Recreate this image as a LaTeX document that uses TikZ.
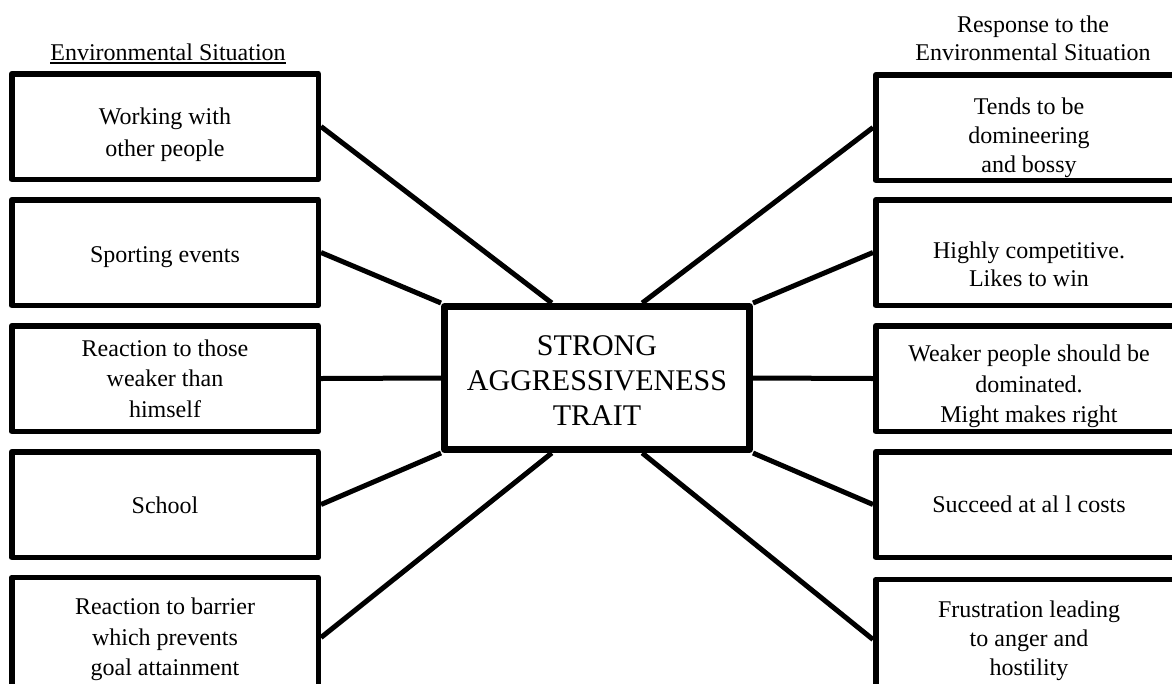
\documentclass[tikz,border=0pt]{standalone}
\usepackage{fontspec}
\setmainfont{Liberation Serif}
\usetikzlibrary{calc}
\begin{document}
\begin{tikzpicture}[x=1pt,y=-1pt,
  sbox/.style={draw,fill=white,line width=5.5pt,minimum width=306.5pt,minimum height=105.5pt,inner sep=0pt,line join=round},
  tall/.style={minimum height=120pt},
  txt/.style={align=center,inner sep=0pt,font=\fontsize{24}{30.5}\selectfont},
  cbox/.style={draw,fill=white,line width=7pt,minimum width=305pt,minimum height=143pt,inner sep=0pt,line join=round},
  ctxt/.style={align=center,inner sep=0pt,font=\fontsize{30}{35}\selectfont},
  link/.style={line width=5pt},
  head/.style={align=center,inner sep=0pt,font=\fontsize{24}{28}\selectfont}]
\useasboundingbox (0,0) rectangle (1172,683);
\clip (0,0) rectangle (1172,683);
% headers
\node[head,anchor=base] (HL) at (168,60) {Environmental Situation};
\draw[line width=1.5pt] ($(HL.base west)+(0,3)$) -- ($(HL.base east)+(0,3)$);
\node[head] (HR) at (1033,38) {Response to the\\Environmental Situation};
% centre
\node[cbox] (C) at (597,378) {};
\node[ctxt] (Ct) at ($(C)+(0,3)$) {STRONG\\AGGRESSIVENESS\\TRAIT};
% left boxes
\node[sbox] (L1) at (165,126.5) {};
\node[sbox] (L2) at (165,252.5) {};
\node[sbox] (L3) at (165,378.5) {};
\node[sbox] (L4) at (165,504.5) {};
\node[sbox,tall] (L5) at (165,637.5) {};
\node[txt,font=\fontsize{24}{32}\selectfont] (L1t) at ($(L1)+(0,8)$) {Working with\\other people};
\node[txt] (L2t) at ($(L2)+(0,5)$) {Sporting events};
\node[txt] (L3t) at ($(L3)+(0,0)$) {Reaction to those\\weaker than\\himself};
\node[txt] (L4t) at ($(L4)+(0,1)$) {School};
\node[txt] (L5t) at ($(L5)+(0,2)$) {Reaction to barrier\\which prevents\\goal attainment};
% right boxes
\node[sbox] (R1) at (1029,127.5) {};
\node[sbox] (R2) at (1029,252.5) {};
\node[sbox] (R3) at (1029,378.5) {};
\node[sbox] (R4) at (1029,504.5) {};
\node[sbox,tall] (R5) at (1029,639.5) {};
\node[txt,font=\fontsize{24}{29}\selectfont] (R1t) at ($(R1)+(0,10)$) {Tends to be\\domineering\\and bossy};
\node[txt,font=\fontsize{24}{28}\selectfont] (R2t) at ($(R2)+(0,12)$) {Highly competitive.\\Likes to win};
\node[txt] (R3t) at ($(R3)+(0,8)$) {Weaker people should be\\dominated.\\Might makes right};
\node[txt] (R4t) at ($(R4)+(0,0)$) {Succeed at al l costs};
\node[txt,font=\fontsize{24}{29}\selectfont] (R5t) at ($(R5)+(0,1)$) {Frustration leading\\to anger and\\hostility};
% connectors
\draw[link] (L1.east) -- ($(C.north west)!0.355!(C.north east)$);
\draw[link] (L2.east) -- (C.north west);
\draw[link] (L3.east) -- (C.west);
\draw[link] (L4.east) -- (C.south west);
\draw[link] (L5.east) -- ($(C.south west)!0.355!(C.south east)$);
\draw[link] (R1.west) -- ($(C.north east)!0.355!(C.north west)$);
\draw[link] (R2.west) -- (C.north east);
\draw[link] (R3.west) -- (C.east);
\draw[link] (R4.west) -- (C.south east);
\draw[link] (R5.west) -- ($(C.south east)!0.355!(C.south west)$);
\end{tikzpicture}
\end{document}
